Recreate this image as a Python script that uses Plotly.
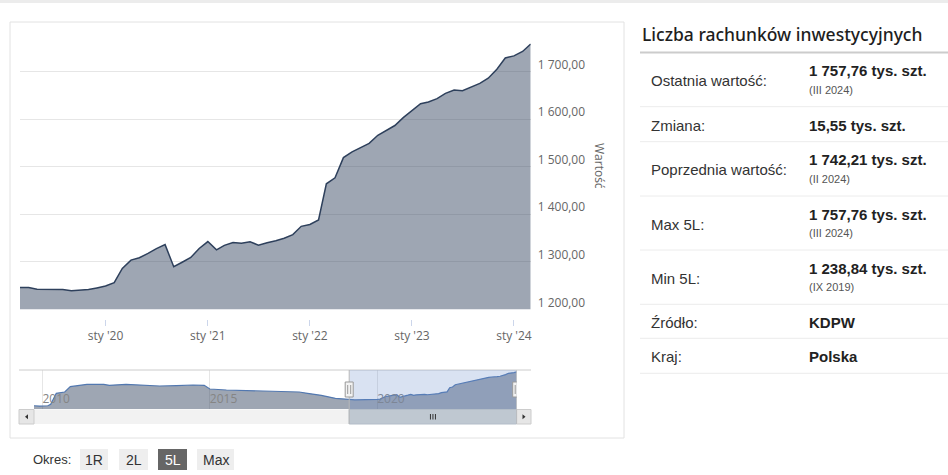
import plotly.graph_objects as go
import pandas as pd

# ---------------- data ----------------
main_start = "2019-03-01"
main_end = "2024-03-01"
main_values = [
    1246.0, 1246.0, 1242.0, 1241.5, 1241.0, 1241.5, 1238.84, 1239.5, 1241.5, 1245.0,
    1249.0, 1256.0, 1286.0, 1303.5, 1308.5, 1317.5, 1327.5, 1336.0, 1289.5, 1299.0,
    1309.0, 1328.0, 1342.5, 1325.0, 1334.5, 1340.5, 1339.0, 1342.0, 1335.0, 1340.0,
    1344.0, 1349.5, 1357.0, 1374.5, 1378.5, 1388.0, 1464.0, 1476.5, 1519.0, 1531.0,
    1540.0, 1549.0, 1566.0, 1576.0, 1586.5, 1603.0, 1618.5, 1632.5, 1636.0, 1643.0,
    1654.0, 1661.0, 1659.5, 1666.5, 1675.0, 1686.0, 1705.0, 1728.5, 1733.0, 1742.21,
    1757.76,
]
main_dates = list(pd.date_range(main_start, main_end, freq="MS"))

history_dates = [
    "2009-10-01", "2009-12-01", "2010-03-01", "2010-04-01", "2010-06-01", "2010-09-01",
    "2010-11-01", "2011-01-01", "2011-05-01", "2011-11-01", "2012-01-01", "2012-07-01",
    "2013-01-01", "2013-07-01", "2014-01-01", "2014-07-01", "2014-11-01", "2015-01-01",
    "2015-07-01", "2016-01-01", "2016-07-01", "2017-01-01", "2017-09-01", "2017-12-01",
    "2018-05-01", "2018-10-01", "2019-01-01",
]
history_values = [
    1134, 1128, 1134, 1160, 1362, 1385,
    1483, 1496, 1527, 1527, 1508, 1527,
    1514, 1496, 1502, 1514, 1508, 1441,
    1422, 1416, 1404, 1392, 1386, 1362,
    1325, 1270, 1251,
]

x_tickvals = ["2020-01-01", "2021-01-01", "2022-01-01", "2023-01-01", "2024-01-01"]
x_ticktext = ["sty '20", "sty '21", "sty '22", "sty '23", "sty '24"]
y_tickvals = [1200, 1300, 1400, 1500, 1600, 1700]
y_ticktext = ["1 200,00", "1 300,00", "1 400,00", "1 500,00", "1 600,00", "1 700,00"]

title_text = "Liczba rachunków inwestycyjnych"
table_labels = ["Ostatnia wartość:", "Zmiana:", "Poprzednia wartość:", "Max 5L:", "Min 5L:", "Źródło:", "Kraj:"]
table_values = ["1 757,76 tys. szt.", "15,55 tys. szt.", "1 742,21 tys. szt.", "1 757,76 tys. szt.",
                "1 238,84 tys. szt.", "KDPW", "Polska"]
table_subs = ["(III 2024)", "", "(II 2024)", "(III 2024)", "(IX 2019)", "", ""]

period_label = "Okres:"
period_buttons = ["1R", "2L", "5L", "Max"]
period_selected = "5L"

# ---------------- layout helpers ----------------
W, H = 948, 475


def X(px):
    return px / W


def Y(py):
    return 1 - py / H


nav_dates = list(pd.to_datetime(history_dates)) + main_dates
nav_values = history_values + main_values

LINE = "#2e405c"
FILL = "rgba(48,66,94,0.47)"
FONT = "Open Sans"
ARIAL = "Liberation Sans"

fig = go.Figure()

fig.add_trace(go.Scatter(
    x=main_dates, y=main_values, mode="lines",
    line=dict(color=LINE, width=1.5), fill="tozeroy", fillcolor=FILL,
    hoverinfo="skip", showlegend=False, xaxis="x", yaxis="y",
))
fig.add_trace(go.Scatter(
    x=nav_dates, y=nav_values, mode="lines",
    line=dict(color="#5278b0", width=1.2), fill="tozeroy", fillcolor=FILL,
    hoverinfo="skip", showlegend=False, xaxis="x2", yaxis="y2",
))

shapes = []
annotations = []

# page top strip and chart container
shapes.append(dict(type="rect", xref="paper", yref="paper", x0=0, x1=1, y0=Y(3), y1=Y(0),
                   fillcolor="#ececec", line=dict(width=0), layer="below"))
shapes.append(dict(type="rect", xref="paper", yref="paper", x0=X(10), x1=X(624), y0=Y(438), y1=Y(22),
                   fillcolor="rgba(0,0,0,0)", line=dict(color="#e2e2e2", width=1), layer="below"))

# navigator outline top
shapes.append(dict(type="line", xref="paper", yref="paper", x0=X(19), x1=X(531), y0=Y(370), y1=Y(370),
                   line=dict(color="#cccccc", width=1)))
# scrollbar track
shapes.append(dict(type="rect", xref="paper", yref="paper", x0=X(19), x1=X(531), y0=Y(424), y1=Y(409.5),
                   fillcolor="#f2f2f2", line=dict(width=0)))
# scrollbar buttons
for bx0, bx1 in [(19, 34), (516.7, 531)]:
    shapes.append(dict(type="rect", xref="paper", yref="paper", x0=X(bx0), x1=X(bx1), y0=Y(424), y1=Y(409.5),
                       fillcolor="#e6e6e6", line=dict(color="#cccccc", width=1)))
# arrows
cy = 416.7
shapes.append(dict(type="path", xref="paper", yref="paper",
                   path=f"M {X(25)} {Y(cy)} L {X(28)} {Y(cy-2.5)} L {X(28)} {Y(cy+2.5)} Z",
                   fillcolor="#333333", line=dict(width=0)))
shapes.append(dict(type="path", xref="paper", yref="paper",
                   path=f"M {X(525.5)} {Y(cy)} L {X(522.5)} {Y(cy-2.5)} L {X(522.5)} {Y(cy+2.5)} Z",
                   fillcolor="#333333", line=dict(width=0)))

sel0, sel1 = main_dates[0], main_dates[-1]
selmid = sel0 + (sel1 - sel0) / 2
# scrollbar thumb
shapes.append(dict(type="rect", xref="x2", yref="paper", x0=sel0, x1=sel1, y0=Y(424), y1=Y(409.5),
                   fillcolor="#bfc8d1", line=dict(color="#b3bdc8", width=1)))
for dx in (-2.5, 0, 2.5):
    shapes.append(dict(type="line", xref="x2", yref="paper", xsizemode="pixel", xanchor=selmid,
                       x0=dx, x1=dx, y0=Y(419.5), y1=Y(414), line=dict(color="#333333", width=1)))
# selection mask
shapes.append(dict(type="rect", xref="x2", yref="paper", x0=sel0, x1=sel1, y0=Y(409), y1=Y(370),
                   fillcolor="rgba(102,140,205,0.25)", line=dict(width=0), layer="above"))
# selection edges
for d in (sel0, sel1):
    shapes.append(dict(type="line", xref="x2", yref="paper", x0=d, x1=d, y0=Y(424), y1=Y(370),
                       line=dict(color="#b8b8b8", width=1)))
# handles
for d in (sel0, sel1):
    shapes.append(dict(type="rect", xref="x2", yref="paper", xsizemode="pixel", xanchor=d,
                       x0=-4, x1=4, y0=Y(397), y1=Y(382),
                       fillcolor="#f2f2f2", line=dict(color="#999999", width=1)))
    for dx in (-1.5, 1.5):
        shapes.append(dict(type="line", xref="x2", yref="paper", xsizemode="pixel", xanchor=d,
                           x0=dx, x1=dx, y0=Y(394), y1=Y(385), line=dict(color="#999999", width=1)))

# y axis title
annotations.append(dict(text="Wartość", x=X(600), y=Y(166), xref="paper", yref="paper",
                        showarrow=False, textangle=90, font=dict(family=FONT, size=12, color="#666666")))

# ---------------- table ----------------
annotations.append(dict(text=title_text, x=X(640), y=Y(34), xref="paper", yref="paper",
                        xanchor="left", yanchor="middle", showarrow=False,
                        font=dict(family="Noto Sans", size=17.5, color="#1e1e1e", weight=500)))
shapes.append(dict(type="line", xref="paper", yref="paper", x0=X(640), x1=1, y0=Y(52.5), y1=Y(52.5),
                   line=dict(color="#cccccc", width=2)))
row_bottoms = [106.7, 141.7, 196, 250, 304.3, 338.3, 373.3]
row_tops = [52.7] + row_bottoms[:-1]
for i, lab in enumerate(table_labels):
    top, bot = row_tops[i], row_bottoms[i]
    mid = (top + bot) / 2
    shapes.append(dict(type="line", xref="paper", yref="paper", x0=X(640), x1=1, y0=Y(bot), y1=Y(bot),
                       line=dict(color="#ececec", width=1)))
    annotations.append(dict(text=lab, x=X(649), y=Y(mid + 1), xref="paper", yref="paper",
                            xanchor="left", yanchor="middle", showarrow=False,
                            font=dict(family=ARIAL, size=15, color="#333333")))
    sub = table_subs[i]
    vy = mid - 9 if sub else mid + 1
    annotations.append(dict(text="<b>" + table_values[i] + "</b>", x=X(807), y=Y(vy), xref="paper", yref="paper",
                            xanchor="left", yanchor="middle", showarrow=False,
                            font=dict(family=ARIAL, size=15, color="#222222")))
    if sub:
        annotations.append(dict(text=sub, x=X(807), y=Y(mid + 10), xref="paper", yref="paper",
                                xanchor="left", yanchor="middle", showarrow=False,
                                font=dict(family=ARIAL, size=11, color="#555555")))

# ---------------- period buttons ----------------
annotations.append(dict(text=period_label, x=X(31), y=Y(459.5), xref="paper", yref="paper",
                        xanchor="left", yanchor="middle", showarrow=False,
                        font=dict(family=ARIAL, size=13, color="#333333")))
btn_x0 = [80, 119, 158, 197]
btn_x1 = [108, 148, 187, 234]
for lab, bx0, bx1 in zip(period_buttons, btn_x0, btn_x1):
    sel = lab == period_selected
    shapes.append(dict(type="rect", xref="paper", yref="paper", x0=X(bx0), x1=X(bx1), y0=Y(470), y1=Y(449),
                       fillcolor="#666666" if sel else "#eeeeee", line=dict(width=0)))
    annotations.append(dict(text=lab, x=X((bx0 + bx1) / 2), y=Y(459.5), xref="paper", yref="paper",
                            xanchor="center", yanchor="middle", showarrow=False,
                            font=dict(family=ARIAL, size=14, color="#ffffff" if sel else "#333333")))

fig.update_layout(
    width=W, height=H, margin=dict(l=0, r=0, t=0, b=0), autosize=False,
    paper_bgcolor="white", plot_bgcolor="rgba(0,0,0,0)",
    showlegend=False, shapes=shapes, annotations=annotations,
    xaxis=dict(
        type="date", domain=[X(20), X(530.7)], range=[main_dates[0], main_dates[-1]],
        anchor="free", position=Y(319),
        tickmode="array", tickvals=x_tickvals, ticktext=x_ticktext,
        ticks="outside", ticklen=6, tickcolor="#ccd6eb", showline=False, showgrid=False, zeroline=False,
        tickfont=dict(family=FONT, size=12, color="#666666"), fixedrange=True,
    ),
    yaxis=dict(
        domain=[Y(309.3), Y(30)], range=[1200, 1200 + (309.3 - 30) / 0.4755], anchor="x", side="right",
        tickmode="array", tickvals=y_tickvals, ticktext=y_ticktext,
        ticks="", showgrid=True, gridcolor="#e6e6e6", gridwidth=1, zeroline=False, showline=False,
        ticklabelposition="outside", ticklabelshift=-7, ticklabelstandoff=6,
        tickfont=dict(family=FONT, size=12, color="#666666"), fixedrange=True,
    ),
    xaxis2=dict(
        type="date", domain=[X(34), X(516.7)], range=[nav_dates[0], nav_dates[-1]],
        anchor="free", position=Y(411),
        tick0="2010-01-01", dtick="M60", tickformat="%Y", ticks="",
        ticklabelposition="inside right", showgrid=True, gridcolor="#e6e6e6", showline=False, zeroline=False,
        tickfont=dict(family=FONT, size=12, color="#858585"), fixedrange=True, layer="above traces",
    ),
    yaxis2=dict(
        domain=[Y(409), Y(370)], range=[1074, 1789], anchor="x2",
        visible=False, showgrid=False, fixedrange=True,
    ),
)

fig.write_html("out.html", config={"responsive": False, "displayModeBar": False, "staticPlot": True},
               post_script="document.body.style.margin='0';")
